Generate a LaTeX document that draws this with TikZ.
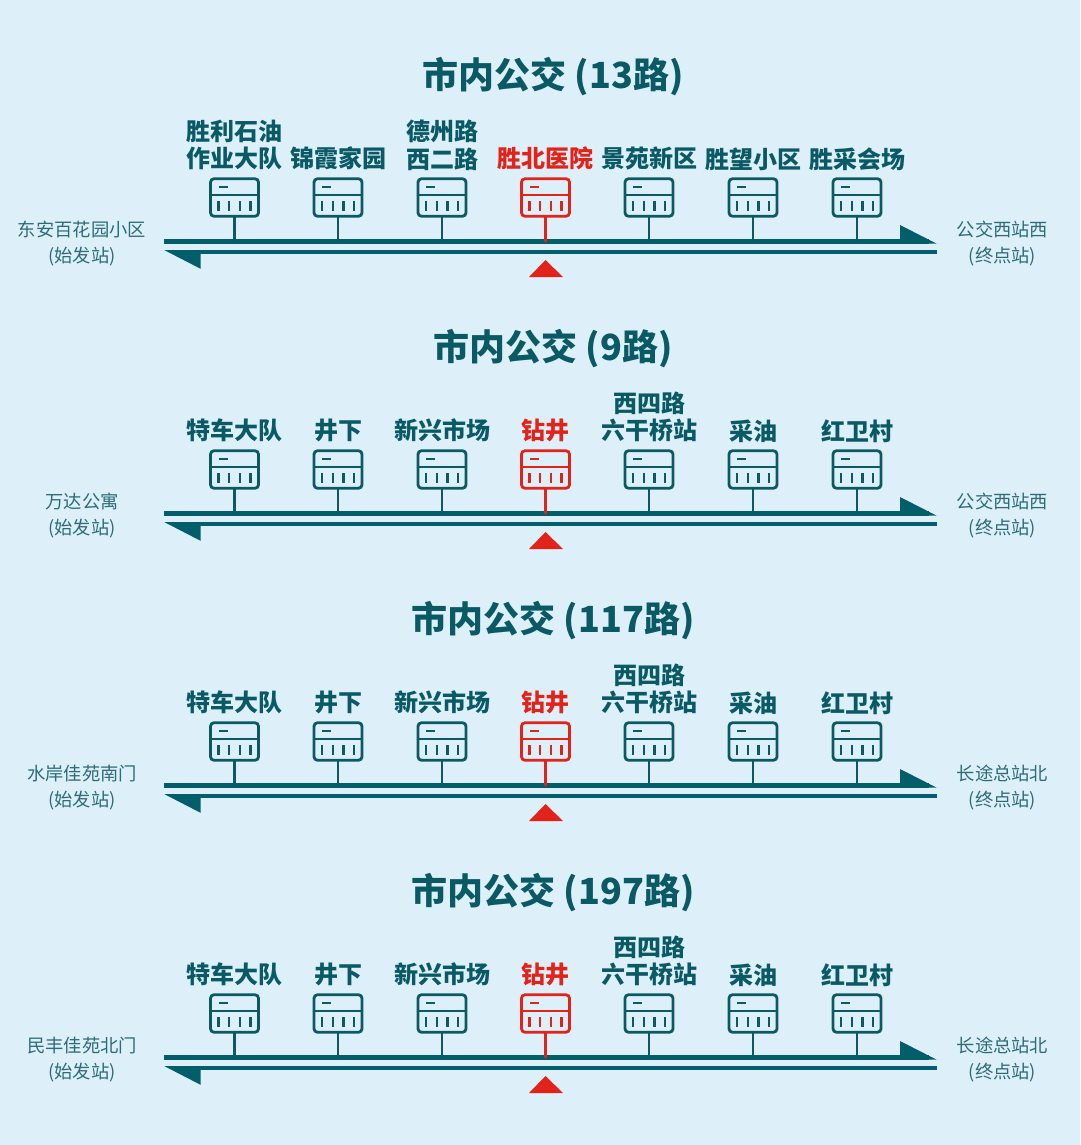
\documentclass[tikz,border=0pt]{standalone}
\usepackage{fontspec}
\setmainfont{Noto Sans CJK SC}
\definecolor{paper}{HTML}{DDF0FA}
\definecolor{ink}{HTML}{0A5A66}
\definecolor{sideink}{HTML}{2C6C77}
\definecolor{railc}{HTML}{025E6B}
\definecolor{accent}{HTML}{E2231A}
\tikzset{
  titletext/.style={font=\fontsize{36}{40}\selectfont\bfseries,text=ink,inner sep=0pt},
  stlabel/.style={font=\fontsize{24}{27.5}\selectfont\bfseries,align=center,inner sep=0pt,anchor=south},
  sidelabel/.style={font=\fontsize{18.3}{26}\selectfont,text=sideink,align=center,inner sep=0pt},
  stopbox/.style={draw,line width=2.8pt,rounded corners=3.5pt,minimum width=48pt,minimum height=37.5pt,inner sep=0pt,outer sep=0pt},
  stopline/.style={line width=2.8pt},
  stoptick/.style={line width=2.4pt},
  railline/.style={draw=railc,line width=4.2pt},
  railhead/.style={fill=railc},
  marker/.style={fill=accent}
}
\newcommand{\busrow}[6]{% id, offset, title, left, right, stations
  \begin{scope}[yshift=-#2pt]
    \node[titletext] (title-#1) at (553,77) {#3};
    \node[sidelabel] (from-#1) at (82,244) {#4\\(始发站)};
    \node[sidelabel] (to-#1) at (1002.5,244) {#5\\(终点站)};
    \coordinate (ua-#1) at (164,241.5);
    \coordinate (ub-#1) at (929,241.5);
    \coordinate (la-#1) at (172,252.3);
    \coordinate (lb-#1) at (936.6,252.3);
    \draw[railline] (ua-#1) -- (ub-#1);
    \draw[railline] (la-#1) -- (lb-#1);
    \fill[railhead] (900,225) -- (936.5,243.6) -- (900,243.6) -- cycle;
    \fill[railhead] (164.5,250.2) -- (200.6,268.8) -- (200.6,250.2) -- cycle;
    \fill[marker] (545.5,260) -- (563,277) -- (529,277) -- cycle;
    \foreach \i/\x/\t in {#6}{
      \edef\stcol{\ifnum\i=4 accent\else ink\fi}
      \node[stlabel,text=\stcol] (label-#1-\i) at (\x,170.5) {\t};
      \node[stopbox,draw=\stcol] (box-#1-\i) at (\x,197.5) {};
      \draw[stopline,draw=\stcol] ([yshift=2.5pt]box-#1-\i.west) -- ([yshift=2.5pt]box-#1-\i.east);
      \draw[stoptick,draw=\stcol] ([xshift=-16pt,yshift=10.5pt]box-#1-\i.center) -- ([xshift=-7pt,yshift=10.5pt]box-#1-\i.center);
      \foreach \d in {-16,-5.3,5.3,16}{
        \draw[stoptick,draw=\stcol] ([xshift=\d pt,yshift=-3.5pt]box-#1-\i.center) -- ([xshift=\d pt,yshift=-13pt]box-#1-\i.center);
      }
      \draw[stopline,draw=\stcol] (box-#1-\i.south) -- (box-#1-\i.south |- ua-#1);
    }
  \end{scope}
}
\begin{document}
\begin{tikzpicture}[x=1pt,y=-1pt]
  \path[fill=paper] (0,0) rectangle (1080,1145);
  \useasboundingbox (0,0) rectangle (1080,1145);
  \busrow{a}{0}{市内公交 (13路)}{东安百花园小区}{公交西站西}{1/234.5/{胜利石油\\作业大队},2/338/{锦霞家园},3/442/{德州路\\西二路},4/545.5/{胜北医院},5/649/{景苑新区},6/753/{胜望小区},7/857/{胜采会场}}
  \busrow{b}{272}{市内公交 (9路)}{万达公寓}{公交西站西}{1/234.5/{特车大队},2/338/{井下},3/442/{新兴市场},4/545.5/{钻井},5/649/{西四路\\六干桥站},6/753/{采油},7/857/{红卫村}}
  \busrow{c}{544}{市内公交 (117路)}{水岸佳苑南门}{长途总站北}{1/234.5/{特车大队},2/338/{井下},3/442/{新兴市场},4/545.5/{钻井},5/649/{西四路\\六干桥站},6/753/{采油},7/857/{红卫村}}
  \busrow{d}{816}{市内公交 (197路)}{民丰佳苑北门}{长途总站北}{1/234.5/{特车大队},2/338/{井下},3/442/{新兴市场},4/545.5/{钻井},5/649/{西四路\\六干桥站},6/753/{采油},7/857/{红卫村}}
\end{tikzpicture}
\end{document}
